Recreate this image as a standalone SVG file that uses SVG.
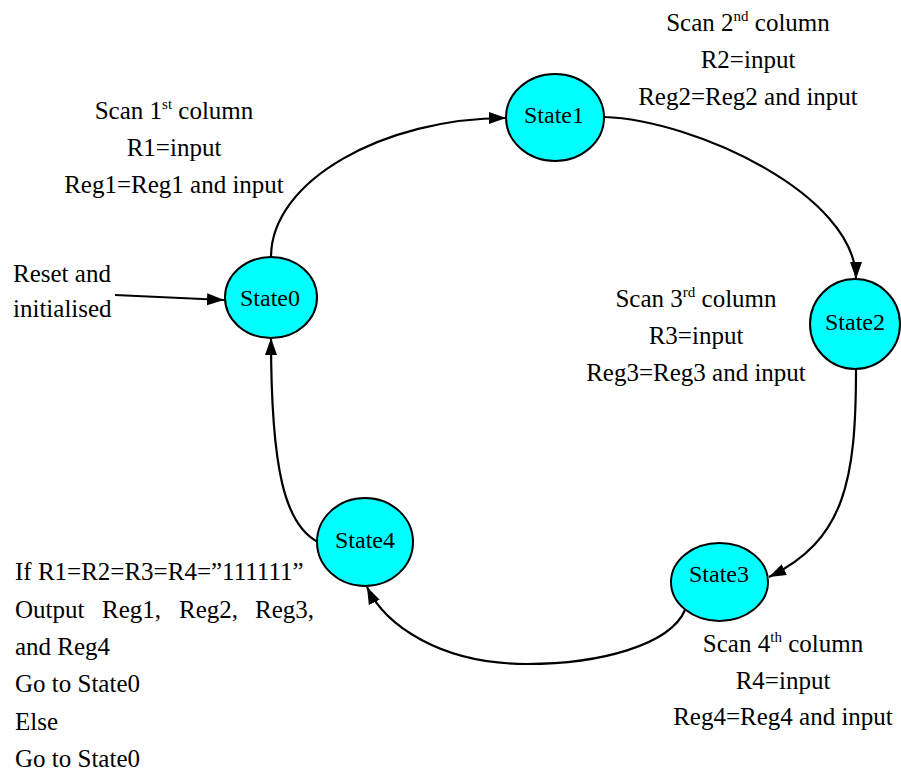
<svg xmlns="http://www.w3.org/2000/svg" width="901" height="773" viewBox="0 0 901 773" font-family="'Liberation Serif', 'DejaVu Serif', serif">
<defs>
<style>
text{font-family:'Liberation Serif','DejaVu Serif',serif;fill:#000}
.lbl{font-size:25px}
.mid{text-anchor:middle}
.st{font-size:24px;text-anchor:middle}
.node{fill:#00FFFF;stroke:#000;stroke-width:2}
.edge{fill:none;stroke:#000;stroke-width:2.2;marker-end:url(#ah)}
.sup{font-size:15px}
</style>
<marker id="ah" markerUnits="userSpaceOnUse" markerWidth="18" markerHeight="14" viewBox="0 0 18 14" refX="17" refY="7" orient="auto">
<path d="M0,1 L17,7 L0,13 Z" fill="#000"/>
</marker>
</defs>
<rect width="901" height="773" fill="#fff"/>
<g id="connectors">
<path class="edge" d="M115,295 L224,300"/>
<path class="edge" d="M271,257 C271,180 385,118 506,118"/>
<path class="edge" d="M604,117 C695,120 856,195 856,279"/>
<path class="edge" d="M856,369 C856,480 845,540 769,577"/>
<path class="edge" d="M685,610 C670,645 600,664 527,664 C440,664 385,625 367,587"/>
<path class="edge" d="M318,542 C285,525 271,470 271,338"/>
</g>
<g id="state0"><ellipse class="node" cx="271" cy="297.5" rx="46" ry="40.5"/><text class="st" x="270" y="306">State0</text></g>
<g id="state1"><ellipse class="node" cx="555" cy="117.5" rx="49" ry="43.5"/><text class="st" x="554" y="123">State1</text></g>
<g id="state2"><ellipse class="node" cx="855" cy="324" rx="45" ry="45"/><text class="st" x="855" y="330">State2</text></g>
<g id="state3"><ellipse class="node" cx="719.5" cy="582" rx="48.5" ry="39"/><text class="st" x="719" y="582">State3</text></g>
<g id="state4"><ellipse class="node" cx="365" cy="542" rx="48" ry="44"/><text class="st" x="365" y="548">State4</text></g>
<g id="labels">
<text class="lbl" x="13" y="282">Reset and</text>
<text class="lbl" x="13" y="317">initialised</text>
<text class="lbl mid" x="174" y="119">Scan 1<tspan class="sup" dy="-10">st</tspan><tspan dy="10"> column</tspan></text>
<text class="lbl mid" x="174" y="156">R1=input</text>
<text class="lbl mid" x="174" y="193">Reg1=Reg1 and input</text>
<text class="lbl mid" x="748" y="31">Scan 2<tspan class="sup" dy="-10">nd</tspan><tspan dy="10"> column</tspan></text>
<text class="lbl mid" x="748" y="68">R2=input</text>
<text class="lbl mid" x="748" y="105">Reg2=Reg2 and input</text>
<text class="lbl mid" x="696" y="307">Scan 3<tspan class="sup" dy="-10">rd</tspan><tspan dy="10"> column</tspan></text>
<text class="lbl mid" x="696" y="344">R3=input</text>
<text class="lbl mid" x="696" y="381">Reg3=Reg3 and input</text>
<text class="lbl mid" x="783" y="652">Scan 4<tspan class="sup" dy="-10">th</tspan><tspan dy="10"> column</tspan></text>
<text class="lbl mid" x="783" y="689">R4=input</text>
<text class="lbl mid" x="783" y="725">Reg4=Reg4 and input</text>
<text class="lbl" x="15" y="580">If R1=R2=R3=R4=”111111”</text>
<text class="lbl" y="618"><tspan x="15">Output</tspan><tspan x="102">Reg1,</tspan><tspan x="179">Reg2,</tspan><tspan x="255">Reg3,</tspan></text>
<text class="lbl" x="15" y="655">and Reg4</text>
<text class="lbl" x="15" y="692">Go to State0</text>
<text class="lbl" x="15" y="730">Else</text>
<text class="lbl" x="15" y="767">Go to State0</text>
</g>
</svg>
